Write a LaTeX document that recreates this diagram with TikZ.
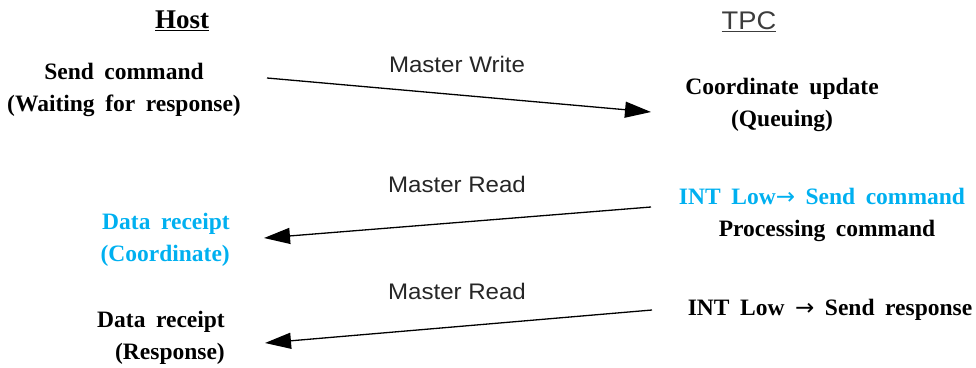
\documentclass[tikz,border=0pt]{standalone}
\usepackage{fontspec}
\newfontfamily\arialf{Liberation Sans}[FakeStretch=1.07]
\newfontfamily\centf{Liberation Serif Bold}[WordSpace=1.8]
\newfontfamily\symf{DejaVu Sans}
\newcommand{\rarr}{{\symf\fontsize{23}{24}\selectfont →}}
\usetikzlibrary{arrows.meta}
\definecolor{cyanblue}{RGB}{0,176,240}
\definecolor{tpcgrey}{RGB}{60,60,60}
\tikzset{
  serif/.style={font=\centf\fontsize{23.5}{32}\selectfont, inner sep=0pt, text=black},
  sans/.style={font=\arialf\fontsize{22.5}{24}\selectfont, inner sep=0pt, text=black!85},
  msg/.style={line width=1.3pt, -{Triangle[length=26pt,width=16pt]}},
}
\begin{document}
\begin{tikzpicture}[x=1pt,y=-1pt]
\useasboundingbox (0,0) rectangle (976,367);
% headers
\node[serif, font=\centf\fontsize{27}{30}\selectfont] (host) at (182,21) {\underline{Host}};
\node[sans, font=\arialf\fontsize{25.5}{30}\selectfont, text=tpcgrey] (tpc) at (749,22) {\underline{TPC}};
% host side
\node[serif, align=center] (send) at (124,90) {Send command\\(Waiting for response)};
\node[serif, align=right, anchor=east, text=cyanblue] (drc) at (230,239.5) {Data receipt\\(Coordinate)};
\node[serif, align=right, anchor=east] (drr) at (225,338) {Data receipt\\(Response)};
% TPC side
\node[serif, align=center] (coord) at (782,105) {Coordinate update\\(Queuing)};
\node[serif, text=cyanblue] (int1) at (822,196) {INT Low\rarr{} Send command};
\node[serif] (proc) at (827,231) {Processing command};
\node[serif] (int2) at (830,310) {INT Low \rarr{} Send response};
% message labels
\node[sans] (mw) at (457,64) {Master Write};
\node[sans] (mr1) at (457,184) {Master Read};
\node[sans] (mr2) at (457,291) {Master Read};
% connectors
\coordinate (a1s) at (267,78);
\coordinate (a1e) at (651,112);
\coordinate (a2s) at (651,207);
\coordinate (a2e) at (264,238);
\coordinate (a3s) at (652,310);
\coordinate (a3e) at (265,343);
\draw[msg] (a1s) -- (a1e);
\draw[msg] (a2s) -- (a2e);
\draw[msg] (a3s) -- (a3e);
\end{tikzpicture}
\end{document}
